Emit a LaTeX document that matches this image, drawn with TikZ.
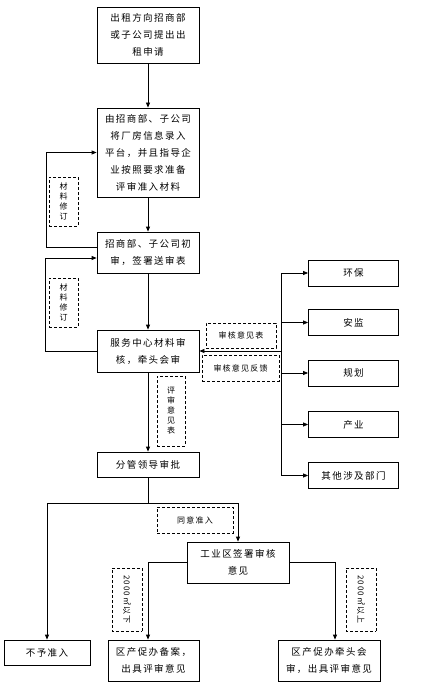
\documentclass[tikz,border=0pt]{standalone}
\usepackage{fontspec}
\setmainfont{Noto Sans CJK SC}[LetterSpace=15]
\usetikzlibrary{arrows.meta}

\begin{document}
\begin{tikzpicture}[x=1pt,y=-1pt,
  box/.style={draw,line width=0.8pt,inner sep=0pt,align=center,font=\fontsize{9.5}{17}\selectfont},
  dept/.style={box,minimum width=90pt,minimum height=26pt},
  note/.style={draw,dash pattern=on 3pt off 2pt,line width=0.8pt,inner sep=0pt,align=center,font=\fontsize{8}{10}\selectfont},
  arr/.style={line width=0.8pt,-{Triangle[length=5pt,width=4pt]}},
  ln/.style={line width=0.8pt}]
  \useasboundingbox (0,0) rectangle (431,682);
  % main column
  \node[box,minimum width=102pt,minimum height=56pt] (apply) at (148,35) {出租方向招商部\\或子公司提出出\\租申请};
  \node[box,minimum width=102pt,minimum height=89pt] (prep) at (148,152.5) {由招商部、子公司\\将厂房信息录入\\平台，并且指导企\\业按照要求准备\\评审准入材料};
  \node[box,minimum width=102pt,minimum height=41pt] (first) at (148,252.5) {招商部、子公司初\\审，签署送审表};
  \node[box,minimum width=102pt,minimum height=42pt] (review) at (148,351) {服务中心材料审\\核，牵头会审};
  \node[box,minimum width=102pt,minimum height=25pt] (lead) at (148,464.5) {分管领导审批};
  \node[box,minimum width=102pt,minimum height=41pt] (zone) at (238,562.5) {工业区签署审核\\意见};
  \node[box,minimum width=86pt,minimum height=25pt] (reject) at (47,652.5) {不予准入};
  \node[box,minimum width=91pt,minimum height=41pt] (filing) at (153.5,660.5) {区产促办备案，\\出具评审意见};
  \node[box,minimum width=102pt,minimum height=41pt] (joint) at (329,660.5) {区产促办牵头会\\审，出具评审意见};
  % departments
  \node[dept] (hb) at (353.5,273) {环保};
  \node[dept] (aj) at (353.5,322.5) {安监};
  \node[dept] (gh) at (353.5,373) {规划};
  \node[dept] (cy) at (353.5,424.5) {产业};
  \node[dept] (qt) at (353.5,475.5) {其他涉及部门};
  % dashed labels
  \node[note,minimum width=29pt,minimum height=49pt] (fixa) at (63.5,201.5) {材\\料\\修\\订};
  \node[note,minimum width=29pt,minimum height=49pt] (fixb) at (63.5,302.5) {材\\料\\修\\订};
  \node[note,minimum width=28pt,minimum height=70pt] (opinion) at (171,411) {评\\审\\意\\见\\表};
  \node[note,minimum width=70pt,minimum height=25pt] (form) at (241,335.5) {审核意见表};
  \node[note,minimum width=77pt,minimum height=26pt] (feedback) at (240.5,368) {审核意见反馈};
  \node[note,minimum width=76pt,minimum height=26pt] (agree) at (195,520) {同意准入};
  \node[note,rotate=-90,minimum width=63pt,minimum height=30pt] (small) at (127,599.5) {2000㎡以下};
  \node[note,rotate=-90,minimum width=63pt,minimum height=30pt] (large) at (361,599.5) {2000㎡以上};
  % connectors
  \draw[arr] (apply) -- (prep);
  \draw[arr] (prep) -- (first);
  \draw[arr] (first) -- (review);
  \draw[arr] (review) -- (lead);
  \draw[arr] ([yshift=5.5pt]first.west) -- ++(-50,0) |- (prep.west);
  \draw[arr] (review.west) -- ++(-51,0) |- ([yshift=-5.5pt]first.west);
  \coordinate (bus) at (281,351);
  \draw[ln] (bus |- hb.west) -- (bus |- qt.west);
  \foreach \d in {hb,aj,gh,cy,qt}
    \draw[arr] (bus |- \d.west) -- (\d.west);
  \draw[arr] (bus) -- (review.east);
  \coordinate (split) at (148,503);
  \draw[ln] (lead) -- (split);
  \draw[arr] (split) -| (reject);
  \draw[arr] (split) -| (zone);
  \draw[arr] (zone.west) -| (review.south |- filing.north);
  \draw[arr] (zone.east) -| ([xshift=6pt]joint.north);
\end{tikzpicture}
\end{document}
